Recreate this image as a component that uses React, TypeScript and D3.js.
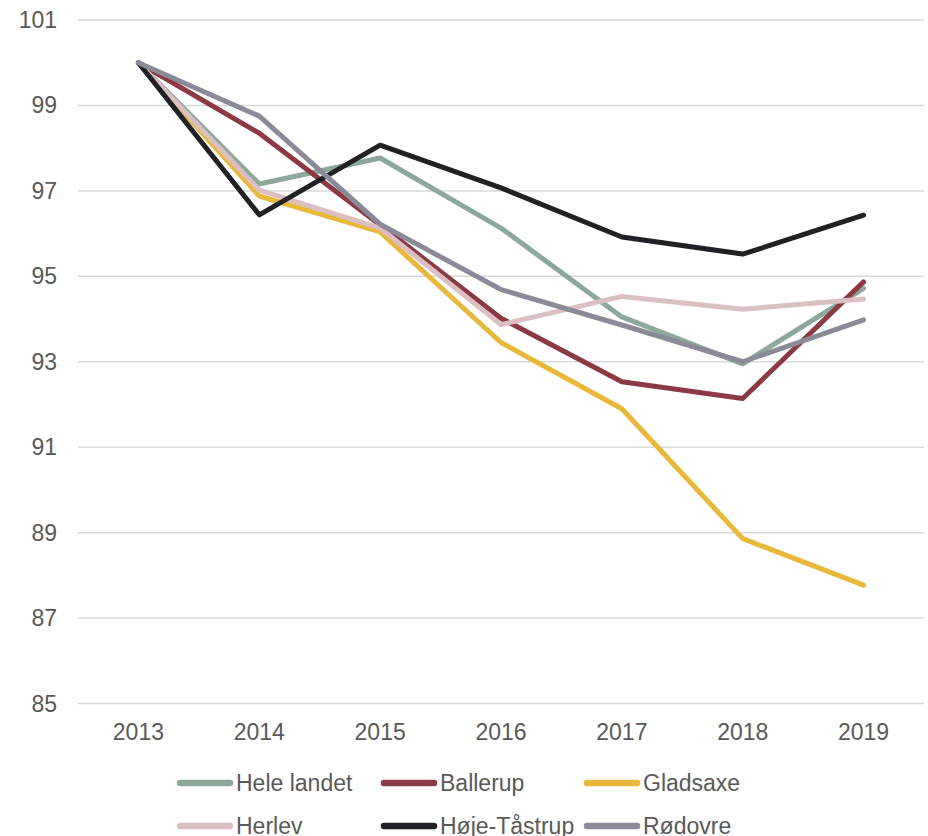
import { useEffect, useRef } from "react"
import * as d3 from "d3"

const years = ["2013", "2014", "2015", "2016", "2017", "2018", "2019"]
const yTicks = [85, 87, 89, 91, 93, 95, 97, 99, 101]

const heleLandet = [100, 97.16, 97.77, 96.13, 94.05, 92.95, 94.72]
const ballerup = [100, 98.35, 96.2, 94.02, 92.53, 92.14, 94.87]
const gladsaxe = [100, 96.88, 96.04, 93.45, 91.9, 88.86, 87.77]
const herlev = [100, 97.02, 96.13, 93.87, 94.53, 94.23, 94.47]
const hojeTaastrup = [100, 96.44, 98.07, 97.07, 95.92, 95.52, 96.43]
const rodovre = [100, 98.75, 96.22, 94.69, 93.86, 93.0, 93.98]

const series = [
  { name: "Hele landet", values: heleLandet, color: "#8ba89b" },
  { name: "Ballerup", values: ballerup, color: "#8b3a45" },
  { name: "Gladsaxe", values: gladsaxe, color: "#e8b83a" },
  { name: "Herlev", values: herlev, color: "#dcbfc3" },
  { name: "Høje-Tåstrup", values: hojeTaastrup, color: "#202124" },
  { name: "Rødovre", values: rodovre, color: "#8b8b98" },
]

export default function App() {
  const svgRef = useRef<SVGSVGElement>(null)

  useEffect(() => {
    if (!svgRef.current) return
    const svg = d3.select(svgRef.current)
    svg.selectAll("*").remove()

    const width = 928
    const height = 836
    const left = 78
    const right = 924
    const top = 20
    const bottom = 703.5
    const font = "'Liberation Sans', Arial, sans-serif"
    const fontSize = "23px"
    const textColor = "#595959"

    svg.attr("width", width).attr("height", height)

    const x = d3.scalePoint<string>().domain(years).range([left, right]).padding(0.5)
    const y = d3.scaleLinear().domain([85, 101]).range([bottom, top])

    // grid lines
    svg.append("g")
      .selectAll("line")
      .data(yTicks)
      .join("line")
      .attr("x1", left)
      .attr("x2", right)
      .attr("y1", (d) => y(d))
      .attr("y2", (d) => y(d))
      .style("stroke", "#d9d9d9")
      .style("stroke-width", 1.5)

    // y labels
    svg.append("g")
      .selectAll("text")
      .data(yTicks)
      .join("text")
      .attr("x", 57)
      .attr("y", (d) => y(d))
      .attr("text-anchor", "end")
      .attr("dominant-baseline", "central")
      .style("font-family", font)
      .style("font-size", fontSize)
      .style("fill", textColor)
      .text((d) => d)

    // x labels
    svg.append("g")
      .selectAll("text")
      .data(years)
      .join("text")
      .attr("x", (d) => x(d)!)
      .attr("y", 732)
      .attr("text-anchor", "middle")
      .attr("dominant-baseline", "central")
      .style("font-family", font)
      .style("font-size", fontSize)
      .style("fill", textColor)
      .text((d) => d)

    const line = d3
      .line<number>()
      .x((_, i) => x(years[i])!)
      .y((d) => y(d))

    series.forEach((s) => {
      svg.append("path")
        .datum(s.values)
        .attr("d", line)
        .style("fill", "none")
        .style("stroke", s.color)
        .style("stroke-width", 5)
        .style("stroke-linejoin", "round")
        .style("stroke-linecap", "round")
    })

    // legend, three per row
    const legendX = [178, 382, 585]
    const legendY = [783, 826]
    series.forEach((s, i) => {
      const lx = legendX[i % 3]
      const ly = legendY[Math.floor(i / 3)]
      svg.append("line")
        .attr("x1", lx + 2)
        .attr("x2", lx + 52)
        .attr("y1", ly)
        .attr("y2", ly)
        .style("stroke", s.color)
        .style("stroke-width", 6.5)
        .style("stroke-linecap", "round")
      svg.append("text")
        .attr("x", lx + 58)
        .attr("y", ly)
        .attr("dominant-baseline", "central")
        .style("font-family", font)
        .style("font-size", fontSize)
        .style("fill", textColor)
        .text(s.name)
    })
  }, [])

  return (
    <svg
      ref={svgRef}
      style={{ position: "absolute", left: 0, top: 0, display: "block", background: "#fff" }}
    />
  )
}
